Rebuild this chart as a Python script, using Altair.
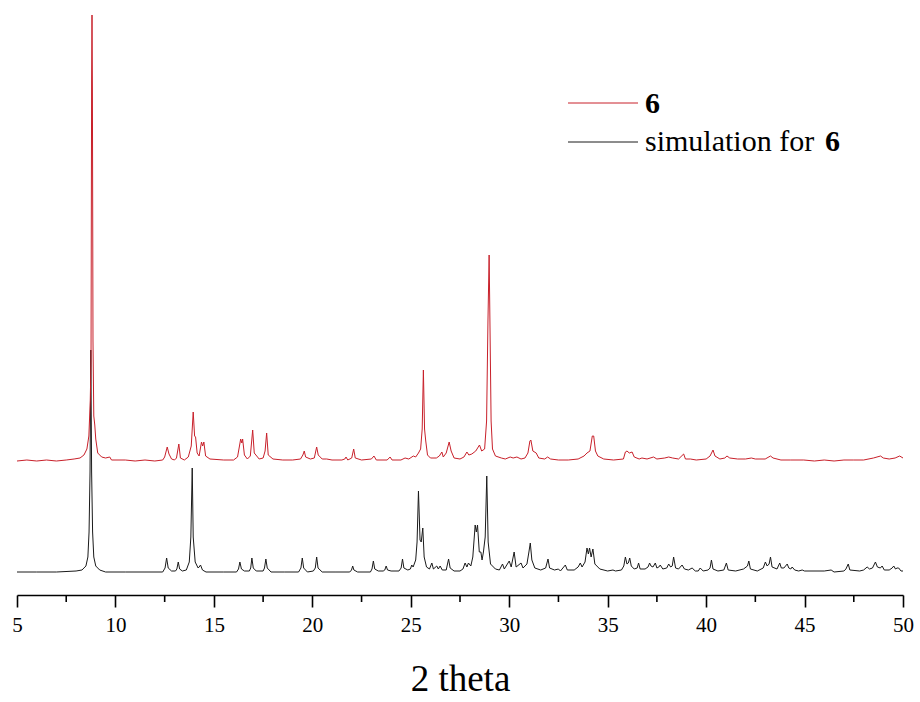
import altair as alt
import pandas as pd

# ---------------- data ----------------
# simulated pattern (black): 2theta and intensity above its own baseline
sim_x = [5.0, 6.0, 7.0, 8.0, 8.3, 8.5, 8.6, 8.66, 8.71, 8.75, 8.79, 8.84, 8.9, 9.0, 9.2, 9.5, 10.5, 11.5,
         12.4, 12.52, 12.6, 12.68, 12.85, 13.05, 13.12, 13.19, 13.26, 13.4, 13.6, 13.75, 13.83, 13.9, 13.95,
         14.05, 14.2, 14.25, 14.32, 14.42, 14.6, 15.5, 16.15, 16.25, 16.32, 16.4, 16.55, 16.8, 16.87, 16.93,
         17.0, 17.15, 17.5, 17.57, 17.64, 17.71, 17.9, 18.6, 19.3, 19.42, 19.49, 19.56, 19.75, 20.05, 20.15,
         20.22, 20.29, 20.5, 21.2, 21.9, 21.99, 22.05, 22.11, 22.3, 22.95, 23.03, 23.1, 23.17, 23.35, 23.6,
         23.68, 23.75, 23.82, 24.0, 24.4, 24.51, 24.58, 24.65, 24.85, 24.98, 25.05, 25.12, 25.25, 25.32,
         25.39, 25.47, 25.53, 25.61, 25.68, 25.8, 25.95, 26.07, 26.15, 26.32, 26.4, 26.49, 26.6, 26.8, 26.92,
         27.0, 27.2, 27.5, 27.65, 27.76, 27.85, 27.93, 28.05, 28.15, 28.27, 28.33, 28.39, 28.48, 28.56, 28.62,
         28.69, 28.78, 28.86, 28.93, 29.05, 29.3, 29.5, 29.66, 29.75, 30.0, 30.1, 30.25, 30.35, 30.6, 30.7,
         30.9, 31.0, 31.07, 31.15, 31.3, 31.6, 31.85, 31.97, 32.05, 32.3, 32.5, 32.6, 32.85, 32.95, 33.3,
         33.5, 33.61, 33.7, 33.85, 33.95, 34.02, 34.08, 34.16, 34.25, 34.35, 34.6, 35.0, 35.27, 35.4, 35.7,
         35.82, 35.9, 35.98, 36.05, 36.12, 36.2, 36.35, 36.5, 36.57, 36.65, 36.9, 37.05, 37.13, 37.2, 37.3,
         37.42, 37.5, 37.6, 37.67, 37.8, 38.0, 38.1, 38.2, 38.28, 38.35, 38.45, 38.6, 38.78, 38.9, 39.1,
         39.29, 39.45, 39.6, 39.7, 39.85, 40.1, 40.2, 40.27, 40.35, 40.6, 40.9, 41.03, 41.12, 41.5, 41.9,
         42.1, 42.17, 42.25, 42.6, 42.9, 43.01, 43.1, 43.2, 43.27, 43.35, 43.6, 43.74, 43.82, 43.95, 44.12,
         44.2, 44.3, 44.37, 44.5, 44.7, 44.88, 45.0, 46.0, 46.35, 46.5, 47.0, 47.1, 47.22, 47.3, 47.8, 48.0,
         48.18, 48.3, 48.45, 48.6, 48.7, 48.85, 48.94, 49.05, 49.3, 49.45, 49.53, 49.62, 49.7, 49.78, 49.9,
         50.0]
sim_y = [0, 0, 0, 1, 2, 6, 15, 40, 100, 222, 100, 40, 15, 6, 2, 0, 0, 0,
         0, 4, 14, 4, 1, 1, 3, 10, 3, 1, 2, 10, 35, 104, 35,
         10, 4, 5, 7, 2, 0, 0, 0, 3, 10, 3, 1, 1, 4, 14,
         4, 1, 1, 4, 13, 4, 0, 0, 0, 4, 14, 4, 0, 1, 4,
         15, 4, 0, 0, 0, 2, 6, 2, 0, 0, 3, 11, 3, 1, 1,
         2, 6, 2, 1, 1, 4, 13, 4, 2, 3, 7, 5, 12, 30,
         81, 32, 30, 44, 15, 5, 3, 9, 3, 6, 3, 6, 2, 2, 13,
         4, 1, 1, 3, 9, 5, 9, 6, 15, 47, 40, 47, 20, 20, 12,
         20, 35, 96, 30, 8, 3, 2, 8, 3, 11, 5, 20, 5, 9, 4,
         8, 20, 29, 12, 4, 2, 4, 13, 4, 2, 3, 1, 7, 2, 2,
         5, 9, 5, 10, 24, 18, 24, 15, 23, 8, 3, 1, 2, 1, 2,
         6, 15, 8, 9, 14, 6, 3, 4, 9, 3, 3, 5, 9, 6, 5,
         9, 4, 5, 7, 3, 4, 8, 5, 6, 15, 4, 3, 7, 3, 2,
         4, 1, 1, 4, 1, 2, 4, 12, 3, 1, 2, 9, 2, 1, 3,
         6, 11, 3, 1, 4, 10, 6, 8, 15, 5, 3, 9, 4, 4, 8,
         4, 3, 5, 2, 1, 2, 1, 1, 2, 0, 1, 3, 8, 2, 1, 2,
         5, 3, 4, 10, 5, 4, 6, 2, 2, 4, 6, 3, 4, 4, 1,
         1]

# measured pattern of 6 (red): 2theta and intensity above its own baseline
exp_x = [5.0, 5.5, 6.0, 6.5, 7.0, 7.5, 7.9, 8.2, 8.4, 8.55, 8.65, 8.72, 8.76, 8.79, 8.81, 8.83, 8.86, 8.9,
         8.95, 9.0, 9.1, 9.3, 9.5, 9.71, 9.8, 10.5, 11.0, 11.5, 12.0, 12.4, 12.5, 12.63, 12.72, 12.85, 13.0,
         13.1, 13.22, 13.3, 13.5, 13.7, 13.85, 13.95, 14.02, 14.07, 14.15, 14.25, 14.37, 14.43, 14.49, 14.58,
         14.8, 15.5, 16.0, 16.2, 16.3, 16.36, 16.42, 16.46, 16.55, 16.7, 16.85, 16.97, 17.05, 17.3, 17.5,
         17.6, 17.68, 17.76, 18.0, 18.5, 19.0, 19.4, 19.52, 19.59, 19.66, 19.9, 20.1, 20.22, 20.3, 20.5,
         20.73, 21.0, 21.5, 21.65, 21.71, 21.8, 22.0, 22.1, 22.18, 22.5, 23.0, 23.13, 23.25, 23.8, 23.95,
         24.05, 24.5, 24.71, 24.9, 25.13, 25.25, 25.39, 25.5, 25.58, 25.64, 25.7, 25.76, 25.85, 26.0, 26.3,
         26.45, 26.58, 26.65, 26.8, 26.95, 27.05, 27.2, 27.5, 27.7, 27.85, 27.95, 28.1, 28.3, 28.49, 28.6,
         28.75, 28.85, 28.92, 28.98, 29.02, 29.08, 29.15, 29.3, 29.6, 29.8, 30.05, 30.2, 30.39, 30.6, 30.8,
         30.95, 31.05, 31.1, 31.2, 31.37, 31.5, 31.8, 31.95, 32.1, 32.5, 33.0, 33.5, 33.8, 33.95, 34.1,
         34.22, 34.29, 34.38, 34.5, 34.8, 35.3, 35.8, 35.9, 35.98, 36.1, 36.24, 36.35, 36.6, 36.74, 37.0,
         37.33, 37.5, 37.9, 38.1, 38.3, 38.6, 38.86, 38.95, 39.2, 39.5, 40.0, 40.2, 40.35, 40.45, 40.7,
         40.95, 41.06, 41.2, 41.6, 42.0, 42.3, 42.5, 43.0, 43.27, 43.4, 43.8, 44.3, 44.96, 45.5, 46.0, 46.5,
         47.0, 47.5, 48.0, 48.5, 48.86, 49.0, 49.3, 49.6, 49.83, 50.0]
exp_y = [0, 1, 0, 1, 0, 1, 2, 3, 6, 12, 25, 60, 100, 380, 446, 370, 120, 45,
         36, 22, 8, 4, 3, 4, 1, 1, 0, 1, 0, 1, 4, 14, 7, 2, 1,
         3, 17, 3, 1, 4, 15, 49, 25, 24, 8, 5, 19, 15, 19, 5,
         2, 1, 1, 4, 15, 22, 18, 22, 6, 2, 5, 31, 8, 2, 3,
         10, 28, 6, 2, 1, 1, 2, 6, 10, 4, 2, 3, 14, 6, 2,
         2, 1, 1, 2, 4, 1, 3, 12, 3, 1, 2, 5, 1, 1, 4,
         1, 1, 3, 2, 5, 4, 8, 12, 32, 91, 32, 20, 6, 3, 3,
         5, 9, 4, 8, 19, 10, 3, 2, 4, 9, 6, 7, 10, 16, 10,
         12, 40, 140, 206, 140, 40, 12, 5, 3, 2, 4, 3, 4, 2, 3,
         8, 20, 21, 10, 8, 3, 2, 4, 2, 1, 1, 2, 5, 8, 10,
         25, 25, 10, 5, 2, 1, 2, 9, 10, 8, 9, 4, 2, 3, 2,
         4, 2, 3, 4, 3, 2, 7, 2, 2, 1, 2, 5, 11, 5, 2,
         3, 5, 3, 2, 2, 3, 2, 2, 5, 3, 1, 1, 1, 0, 1, 0,
         1, 1, 1, 3, 5, 3, 2, 3, 5, 3]

series_names = ["6", "simulation for 6"]
x_ticks = [5, 10, 15, 20, 25, 30, 35, 40, 45, 50]
minor_ticks = [7.5, 12.5, 17.5, 22.5, 27.5, 32.5, 37.5, 42.5, 47.5]

# ---------------- layout / style ----------------
offsets = {"6": 134, "simulation for 6": 23}
colors = {"6": "#c8202a", "simulation for 6": "#1a1a1a"}
FONT = "Liberation Serif, Times New Roman, serif"

frames = []
for name, xs, ys in [(series_names[1], sim_x, sim_y), (series_names[0], exp_x, exp_y)]:
    d = pd.DataFrame({"x": xs, "inten": ys})
    d["y"] = d["inten"] + offsets[name]
    d["series"] = name
    d["idx"] = range(len(d))
    frames.append(d)

xscale = alt.Scale(domain=[5, 50], nice=False, zero=False)
yscale = alt.Scale(domain=[0, 595], nice=False, zero=True)

xaxis = alt.Axis(values=x_ticks, title="2 theta", grid=False,
                 domainColor="black", domainWidth=1.6, tickColor="black", tickWidth=1.6,
                 tickSize=12, labelFont=FONT, labelFontSize=21, labelColor="black",
                 labelPadding=7, labelFlush=False, titleFont=FONT, titleFontSize=37,
                 titleFontWeight="normal", titleColor="black", titlePadding=26)

X = alt.X("x:Q", scale=xscale, axis=xaxis)


def line_layer(df, name):
    return alt.Chart(df).mark_line(color=colors[name], strokeWidth=1, clip=False).encode(
        x=X,
        y=alt.Y("y:Q", scale=yscale, axis=None),
        order="idx:Q",
    )


sim_layer = line_layer(frames[0], series_names[1])
exp_layer = line_layer(frames[1], series_names[0])

minor = alt.Chart(pd.DataFrame({"x": minor_ticks})).mark_rule(
    color="black", strokeWidth=1.6, clip=False).encode(
    x=X, y=alt.value(595), y2=alt.value(602))

# manual legend (mixed bold text)
leg_lines = alt.Chart(pd.DataFrame({"series": series_names, "ly": [103, 142]})).mark_rule(
    strokeWidth=1).encode(
    x=alt.value(551), x2=alt.value(621), y=alt.Y("ly:Q", scale=None),
    color=alt.Color("series:N", scale=alt.Scale(domain=series_names,
                                                 range=[colors[n] for n in series_names]),
                    legend=None))

FS = 30
leg_bold1 = alt.Chart(pd.DataFrame({"t": ["6"]})).mark_text(
    font=FONT, fontSize=FS, fontWeight="bold", align="left", baseline="alphabetic",
    color="black").encode(text="t:N", x=alt.value(628), y=alt.value(113))
leg_text2 = alt.Chart(pd.DataFrame({"t": ["simulation for"]})).mark_text(
    font=FONT, fontSize=FS, align="left", baseline="alphabetic",
    color="black").encode(text="t:N", x=alt.value(628), y=alt.value(151))
leg_bold2 = alt.Chart(pd.DataFrame({"t": ["6"]})).mark_text(
    font=FONT, fontSize=FS, fontWeight="bold", align="left", baseline="alphabetic",
    color="black").encode(text="t:N", x=alt.value(808), y=alt.value(151))

chart = alt.layer(sim_layer, exp_layer, minor, leg_lines, leg_bold1, leg_text2, leg_bold2).properties(
    width=886, height=595,
    padding={"left": 17, "right": 17, "top": 0, "bottom": 107},
    autosize=alt.AutoSizeParams(type="none"),
    background="white",
).configure_view(stroke=None)

chart.save("out.html", embed_options={"renderer": "svg", "actions": False})
